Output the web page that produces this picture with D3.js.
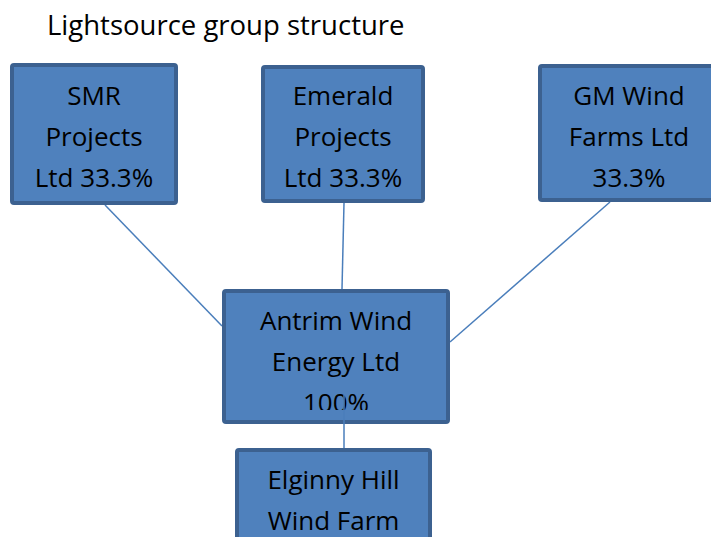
<!DOCTYPE html>
<html>
<head>
<meta charset="utf-8">
<script src="https://cdn.jsdelivr.net/npm/d3@7"></script>
<style>
  body { margin: 0; background: #fff; }
  text { font-family: "Open Sans", sans-serif; }
</style>
</head>
<body>
<div id="chart"></div>
<script>
// chart content
const title = "Lightsource group structure";
const names = ["SMR", "Emerald", "GM", "Antrim", "Elginny"];
const labels = [
  ["SMR", "Projects", "Ltd 33.3%"],
  ["Emerald", "Projects", "Ltd 33.3%"],
  ["GM Wind", "Farms Ltd", "33.3%"],
  ["Antrim Wind", "Energy Ltd", "100%"],
  ["Elginny Hill", "Wind Farm"]
];
const parents = [["SMR", "Antrim"], ["Emerald", "Antrim"], ["GM", "Antrim"], ["Antrim", "Elginny"]];

// layout
const width = 711, height = 537;
const boxX = { SMR: [10, 178], Emerald: [261, 425], GM: [538, 720], Antrim: [222, 450], Elginny: [235, 432] };
const boxY = { SMR: [63, 205], Emerald: [65, 203], GM: [64, 202], Antrim: [289, 424], Elginny: [448, 560] };
const clipped = { Antrim: 410 };
const linkEnds = {
  "SMR-Antrim": [[105, 205], [222, 326]],
  "Emerald-Antrim": [[344, 203], [342, 289]],
  "GM-Antrim": [[610, 202], [450, 342]],
  "Antrim-Elginny": [[344, 395], [344, 448]]
};

const svg = d3.select("#chart").append("svg")
  .attr("width", width)
  .attr("height", height);

svg.append("text")
  .attr("x", 47)
  .attr("y", 35)
  .style("font-size", "27.5px")
  .attr("fill", "#000")
  .text(title);

const nodes = names.map((n, i) => ({ name: n, lines: labels[i], x: boxX[n], y: boxY[n] }));

function drawLink(p) {
  const e = linkEnds[p[0] + "-" + p[1]];
  svg.append("line")
    .attr("x1", e[0][0]).attr("y1", e[0][1])
    .attr("x2", e[1][0]).attr("y2", e[1][1])
    .attr("stroke", "#4a7ebb")
    .attr("stroke-width", 1.5);
}

const defs = svg.append("defs");

function drawNode(d, i) {
  const g = svg.append("g");
  const w = d.x[1] - d.x[0], h = d.y[1] - d.y[0];
  g.append("rect")
    .attr("x", d.x[0] + 2).attr("y", d.y[0] + 2)
    .attr("width", w - 4).attr("height", h - 4)
    .attr("rx", 2)
    .attr("fill", "#4f81bd")
    .attr("stroke", "#3c6190")
    .attr("stroke-width", 4);
  const cx = (d.x[0] + d.x[1]) / 2;
  const tg = g.append("g");
  if (clipped[d.name]) {
    defs.append("clipPath").attr("id", "clip" + i)
      .append("rect")
      .attr("x", d.x[0]).attr("y", d.y[0])
      .attr("width", w).attr("height", clipped[d.name] - d.y[0]);
    tg.attr("clip-path", "url(#clip" + i + ")");
  }
  tg.selectAll("text")
    .data(d.lines)
    .join("text")
      .attr("x", cx)
      .attr("y", (t, j) => 63 + 42 + j * 41 + (d.y[0] > 100 ? d.y[0] - 63 - 1 : 0))
      .attr("text-anchor", "middle")
      .style("font-size", "26px")
      .attr("fill", "#000")
      .text(t => t);
}

// top three boxes, links to Antrim, Antrim box, its link down, bottom box
parents.slice(0, 3).forEach(drawLink);
nodes.slice(0, 4).forEach(drawNode);
drawLink(parents[3]);
drawNode(nodes[4], 4);
</script>
</body>
</html>
